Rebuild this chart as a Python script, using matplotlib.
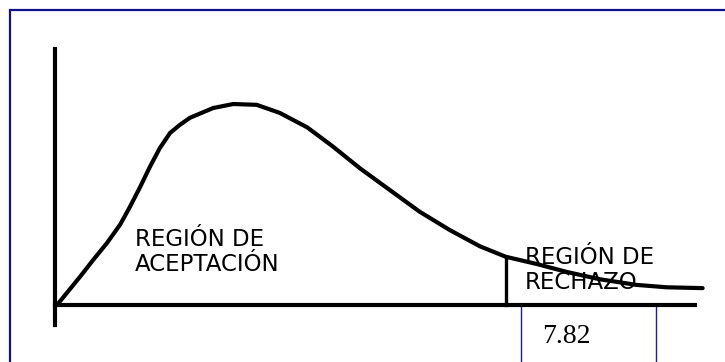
import matplotlib
matplotlib.use("Agg")
import matplotlib.pyplot as plt
from matplotlib.patches import Rectangle

# Chi-square-like density curve (schematic)
x_vals = [0.0, 0.40, 0.63, 0.87, 1.10, 1.27, 1.45, 1.62, 1.79, 1.97, 2.14, 2.32,
          2.72, 3.07, 3.48, 3.88, 4.36, 4.81, 5.28, 5.80, 6.32, 6.85, 7.37, 7.82,
          8.36, 8.89, 9.46, 10.10, 10.63, 11.25]
y_vals = [0.0, 0.035, 0.056, 0.077, 0.100, 0.122, 0.147, 0.172, 0.195, 0.214, 0.224,
          0.233, 0.245, 0.250, 0.249, 0.239, 0.221, 0.197, 0.170, 0.143, 0.116, 0.093,
          0.073, 0.060, 0.051, 0.041, 0.032, 0.025, 0.022, 0.021]
critical_value = 7.82
critical_height = 0.060
critical_label = "7.82"
accept_label = "REGIÓN DE\nACEPTACIÓN"
reject_label = "REGIÓN DE\nRECHAZO"

fig = plt.figure(figsize=(7.25, 3.62), dpi=100)
ax = fig.add_axes([0, 0, 1, 1])
ax.set_xlim(-0.993, 11.64)
ax.set_ylim(-0.0709, 0.3794)
ax.set_xticks([])
ax.set_yticks([])
for s in ["top", "right"]:
    ax.spines[s].set_visible(False)
ax.spines["left"].set_position(("data", -0.035))
ax.spines["left"].set_bounds(-0.025, 0.319)
ax.spines["left"].set_linewidth(3.0)
ax.spines["bottom"].set_position(("data", 0))
ax.spines["bottom"].set_bounds(-0.035, 11.11)
ax.spines["bottom"].set_linewidth(3.0)
ax.patch.set_visible(False)

# Outer blue frame
fig.add_artist(Rectangle((10 / 725, -0.2), 1.2, (362 - 10) / 362 + 0.2,
                         transform=fig.transFigure, fill=False,
                         edgecolor="#10108a", linewidth=1.6))

# Curve
ax.plot(x_vals, y_vals, color="black", linewidth=3.0, solid_capstyle="round",
        solid_joinstyle="round")
# Critical line
ax.plot([critical_value, critical_value], [0, critical_height], color="black",
        linewidth=2.4)

# Labels (baseline of the last line)
ax.text(1.36, 0.0423, accept_label, family="DejaVu Sans", fontsize=16.5,
        ha="left", va="baseline", linespacing=1.09, color="black")
ax.text(8.15, 0.0199, reject_label, family="DejaVu Sans", fontsize=16.5,
        ha="left", va="baseline", linespacing=1.09, color="black")

# Box with the critical value
ax.add_patch(Rectangle((8.08, -0.2), 2.36, 0.2, fill=False,
                       edgecolor="#1c1c99", linewidth=1.0, clip_on=False))
ax.text(8.45, -0.047, critical_label, family="Liberation Serif", fontsize=20,
        ha="left", va="baseline", color="black")

fig.savefig("out.png", dpi=100)
